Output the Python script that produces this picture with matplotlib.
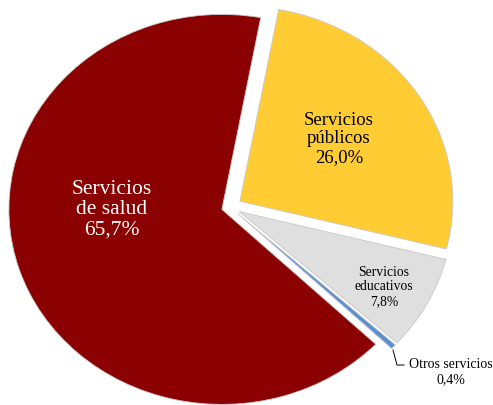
import matplotlib.pyplot as plt

plt.rcParams["font.family"] = ["Liberation Serif", "DejaVu Serif"]

# Data
categories = ["Servicios\npúblicos", "Servicios\neducativos", "Otros servicios", "Servicios\nde salud"]
values = [26.0, 7.8, 0.4, 65.7]
pct_labels = ["26,0%", "7,8%", "0,4%", "65,7%"]
colors = ["#FFCC33", "#E0DFE0", "#5B8FD0", "#8B0000"]
explode = [0.055, 0.05, 0.05, 0.04]

W, H = 493, 406
fig = plt.figure(figsize=(W / 100, H / 100), dpi=100)
ax = fig.add_axes([0, 0, 1, 1])

# pie centre/radius in pixels (the picture is stretched horizontally)
cx, cy, rx, ry = 230, 208, 213, 195

wedges, _ = ax.pie(values, colors=colors, startangle=79.5, counterclock=False,
                   explode=explode, radius=1.0,
                   wedgeprops=dict(edgecolor="#c8c8c8", linewidth=0.6))
ax.set_aspect("auto")
ax.set_xlim(-cx / rx, (W - cx) / rx)
ax.set_ylim((cy - H) / ry, cy / ry)


def px(x, y):
    return (x - cx) / rx, (cy - y) / ry


# labels
ax.text(*px(112, 210), categories[3] + "\n" + pct_labels[3], color="white",
        fontsize=15.5, ha="center", va="center", linespacing=1.1)
ax.text(*px(339, 139), categories[0] + "\n" + pct_labels[0], color="black",
        fontsize=13.5, ha="center", va="center", linespacing=1.1)
ax.text(*px(384, 287), categories[1] + "\n" + pct_labels[1], color="black",
        fontsize=9.8, ha="center", va="center", linespacing=1.15)
ax.text(*px(451, 372), categories[2] + "\n" + pct_labels[2], color="black",
        fontsize=10, ha="center", va="center", linespacing=1.15)

# leader line for the small slice
lx = [px(393, 351)[0], px(397, 366)[0], px(404, 366)[0]]
ly = [px(393, 351)[1], px(397, 366)[1], px(404, 366)[1]]
ax.plot(lx, ly, color="black", linewidth=0.7)

ax.axis("off")
fig.savefig("out.png", dpi=100)
